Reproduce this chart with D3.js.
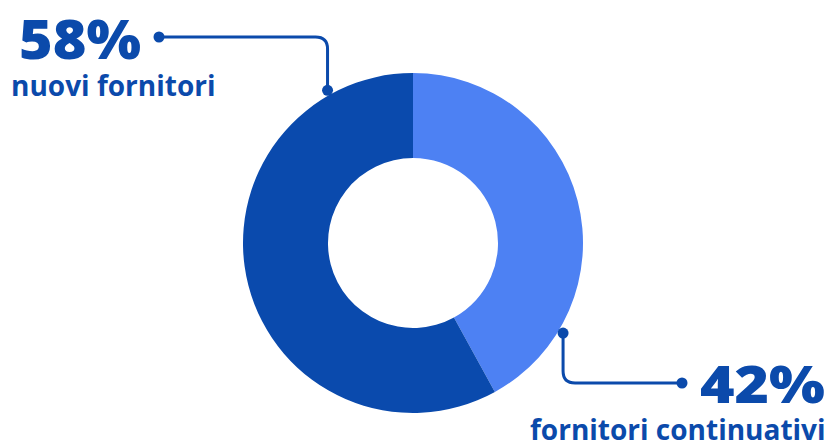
<!DOCTYPE html>
<html>
<head>
<meta charset="utf-8">
<script src="https://cdn.jsdelivr.net/npm/d3@7"></script>
<style>
  html, body { margin: 0; padding: 0; background: #fff; }
  svg { display: block; }
  text { font-family: "Open Sans", "Noto Sans", sans-serif; }
</style>
</head>
<body>
<svg id="chart" width="828" height="445"></svg>
<script>
// Supplier share donut
const categories = ['fornitori continuativi', 'nuovi fornitori'];
const values = [42, 58];
const labels = ['42%', '58%'];
const colors = ['#4d81f3', '#0a4aad'];

(function() {
  const W = 828, H = 445;
  const cx = 413, cy = 243, rOuter = 170, rInner = 85;
  const ink = '#0b4aab';
  const svg = d3.select('#chart');

  const pie = d3.pie().sort(null).value(d => d.v);
  const arcs = pie(values.map((v, i) => ({v, name: categories[i], label: labels[i]})));
  const arc = d3.arc().innerRadius(rInner).outerRadius(rOuter);

  const g = svg.append('g').attr('transform', `translate(${cx},${cy})`);
  g.selectAll('path')
    .data(arcs)
    .enter().append('path')
    .attr('d', arc)
    .attr('fill', (d, i) => colors[i]);

  // point on the outer edge of a slice, at fraction t of its span
  function edgePoint(d, t, r) {
    const a = d.startAngle + (d.endAngle - d.startAngle) * t;
    return [cx + Math.sin(a) * r, cy - Math.cos(a) * r];
  }

  // callout settings per slice
  const callouts = [
    {t: 0.80, end: [682, 383], text: [700, 403], bigW: 125, sub: [530, 440], big: 52, small: 28},
    {t: 0.86, end: [159, 37], text: [19, 59], bigW: 122, sub: [11, 96], big: 55, small: 28}
  ];

  arcs.forEach((d, i) => {
    const c = callouts[i];
    const p = edgePoint(d, c.t, rOuter + 5);
    const r = 12;
    let path;
    if (c.end[1] > p[1]) {
      // down then right
      path = `M${p[0]},${p[1]} V${c.end[1] - r} Q${p[0]},${c.end[1]} ${p[0] + r},${c.end[1]} H${c.end[0]}`;
    } else {
      // up then left
      path = `M${p[0]},${p[1]} V${c.end[1] + r} Q${p[0]},${c.end[1]} ${p[0] - r},${c.end[1]} H${c.end[0]}`;
    }
    svg.append('path')
      .attr('d', path)
      .attr('fill', 'none')
      .attr('stroke', ink)
      .attr('stroke-width', 3);
    svg.append('circle').attr('cx', p[0]).attr('cy', p[1]).attr('r', 5.5).attr('fill', ink);
    svg.append('circle').attr('cx', c.end[0]).attr('cy', c.end[1]).attr('r', 5.5).attr('fill', ink);

    svg.append('text')
      .attr('x', c.text[0]).attr('y', c.text[1])
      .attr('fill', ink)
      .attr('font-size', c.big)
      .attr('font-weight', 800)
      .attr('textLength', c.bigW)
      .attr('lengthAdjust', 'spacingAndGlyphs')
      .text(d.data.label);
    svg.append('text')
      .attr('x', c.sub[0]).attr('y', c.sub[1])
      .attr('fill', ink)
      .attr('font-size', c.small)
      .attr('font-weight', 700)
      .text(d.data.name);
  });
})();
</script>
</body>
</html>
